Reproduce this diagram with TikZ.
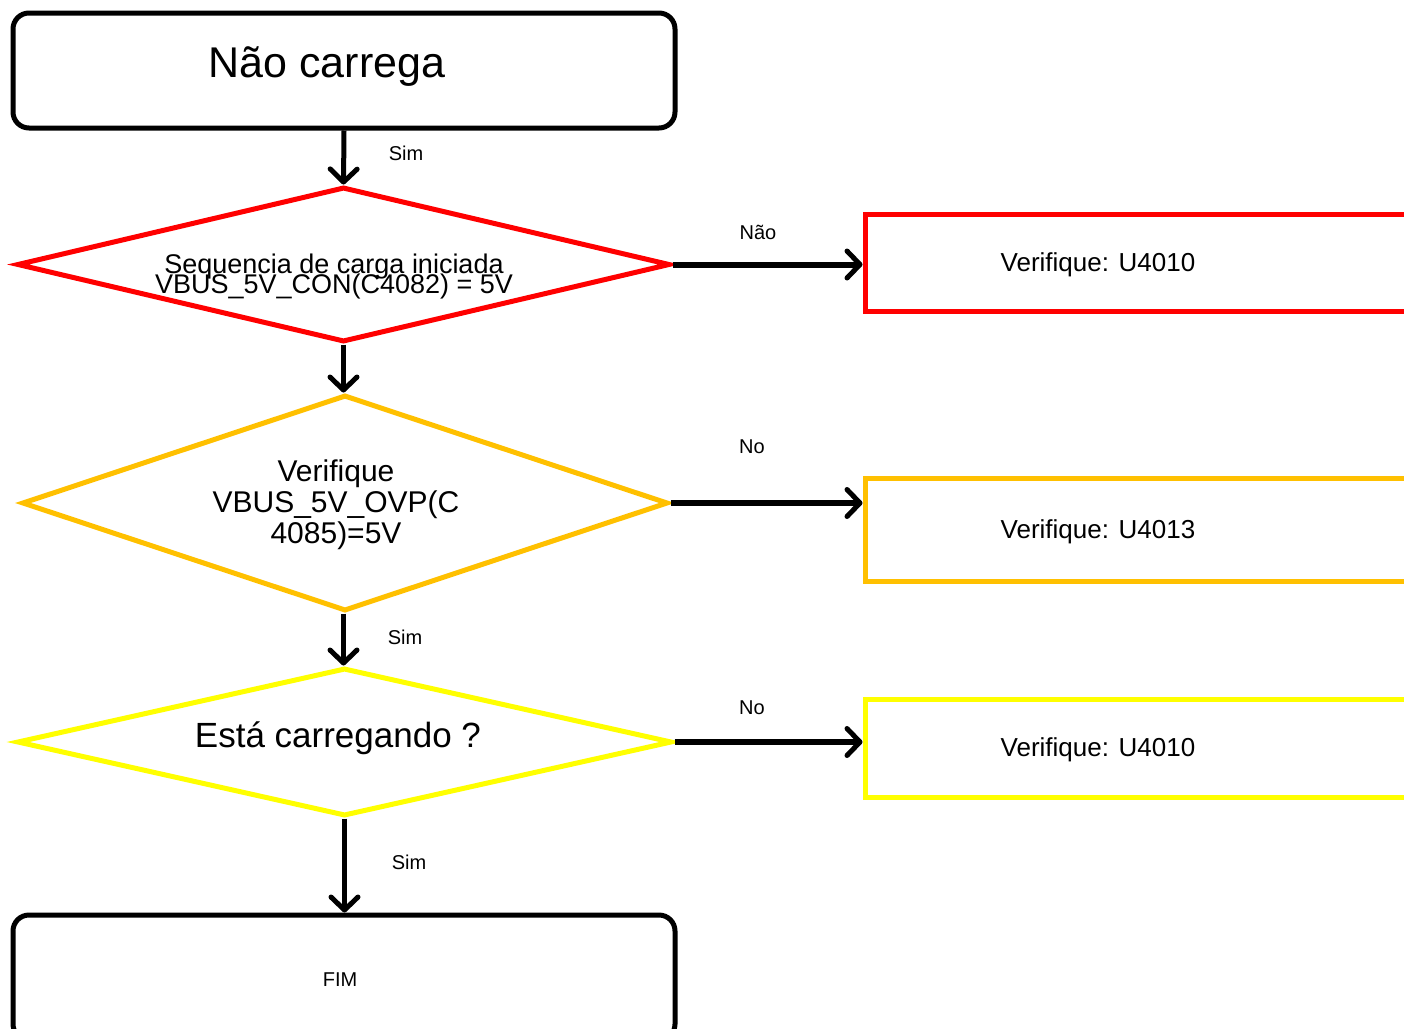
\documentclass[tikz,border=0pt]{standalone}
\usepackage{fontspec}
\setmainfont{Liberation Sans}
\usetikzlibrary{shapes.geometric,arrows.meta}
\definecolor{cred}{HTML}{FF0000}
\definecolor{corange}{HTML}{FFC000}
\definecolor{cyellow}{HTML}{FFFF00}
\tikzset{
  termbox/.style={draw=black,line width=5pt,rounded corners=16pt,inner sep=0pt},
  decision/.style={diamond,draw,line width=5pt,inner sep=0pt,aspect=4},
  resultbox/.style={rectangle,draw,line width=5pt,inner sep=0pt,minimum width=555pt},
  conn/.style={draw=black,line width=5pt,-{Straight Barb[length=13pt,width=27pt,line width=5pt,round]}},
  hconn/.style={conn,line width=6pt},
  lbl/.style={font=\fontsize{20}{22}\selectfont,inner sep=0pt},
  txt/.style={inner sep=0pt,align=center}
}
\begin{document}
\begin{tikzpicture}[x=1pt,y=-1pt]
\useasboundingbox (0,0) rectangle (1404,1028);
\clip (0,0) rectangle (1404,1028);
% boxes
\node[termbox,minimum width=662pt,minimum height=115pt] (start) at (344,70.5) {};
\node[txt,font=\fontsize{43}{48}\selectfont] (tstart) at (327,67) {Não carrega};

\node[decision,draw=cred,minimum width=653pt,minimum height=155pt] (d1) at (343.5,264.5) {};
\node[txt,font={\fontsize{27}{20}\selectfont\lineskiplimit=-100pt}] (td1) at (334,277) {Sequencia de carga iniciada\\VBUS\_5V\_CON(C4082) = 5V};

\node[decision,draw=corange,minimum width=646pt,minimum height=216pt] (d2) at (345,503) {};
\node[txt,font=\fontsize{30}{31}\selectfont] (td2) at (336,505) {Verifique\\VBUS\_5V\_OVP(C\\4085)=5V};

\node[decision,draw=cyellow,minimum width=655pt,minimum height=148pt] (d3) at (344.5,742) {};
\node[txt,font=\fontsize{35}{40}\selectfont] (td3) at (338,738) {Está carregando ?};

\node[termbox,minimum width=662pt,minimum height=125pt] (fim) at (344,977.5) {};
\node[txt,font=\fontsize{20}{22}\selectfont] (tfim) at (340,980) {FIM};

\node[resultbox,draw=cred,minimum height=97pt] (r1) at (1142.5,262.5) {};
\node[txt,font=\fontsize{26}{30}\selectfont] (tr1) at (1098,265) {Verifique: U4010};
\node[resultbox,draw=corange,minimum height=103pt] (r2) at (1142.5,529.5) {};
\node[txt,font=\fontsize{26}{30}\selectfont] (tr2) at (1098,532) {Verifique: U4013};
\node[resultbox,draw=cyellow,minimum height=98pt] (r3) at (1142.5,748) {};
\node[txt,font=\fontsize{26}{30}\selectfont] (tr3) at (1098,750) {Verifique: U4010};

% connectors
\draw[conn] (start.south) -- (d1.north);
\draw[conn] (d1.south) -- (d1.south |- d2.north);
\draw[conn] (d2.south -| d1.south) -- (d3.north -| d1.south);
\draw[conn] (d3.south) -- (fim.north -| d3.south);
\draw[hconn] (d1.east) -- (d1.east -| r1.west);
\draw[hconn] (d2.east) -- (d2.east -| r2.west);
\draw[hconn] (d3.east) -- (d3.east -| r3.west);

% labels
\node[lbl] (l1) at (406,153) {Sim};
\node[lbl] (l2) at (758,232) {Não};
\node[lbl] (l3) at (752,447) {No};
\node[lbl] (l4) at (405,637) {Sim};
\node[lbl] (l5) at (752,708) {No};
\node[lbl] (l6) at (409,862) {Sim};
\end{tikzpicture}
\end{document}
